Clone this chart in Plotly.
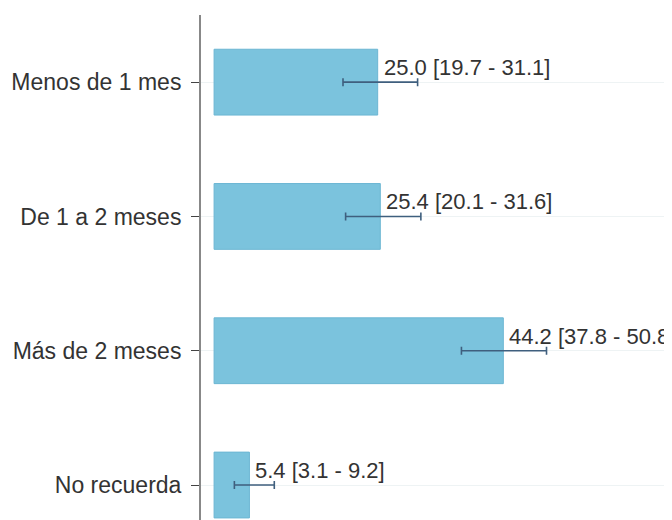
import plotly.graph_objects as go

categorias = ['Menos de 1 mes', 'De 1 a 2 meses', 'Más de 2 meses', 'No recuerda']
porcentaje = [25.0, 25.4, 44.2, 5.4]
ic_inf = [19.7, 20.1, 37.8, 3.1]
ic_sup = [31.1, 31.6, 50.8, 9.2]

etiquetas = [f'{v:.1f} [{lo:.1f} - {hi:.1f}]' for v, lo, hi in zip(porcentaje, ic_inf, ic_sup)]

fig = go.Figure(go.Bar(
    y=categorias,
    x=porcentaje,
    orientation='h',
    width=0.49,
    marker=dict(color='#7bc3dd', line=dict(color='#6cb6d3', width=1)),
    error_x=dict(
        type='data',
        symmetric=False,
        array=[hi - v for v, hi in zip(porcentaje, ic_sup)],
        arrayminus=[v - lo for v, lo in zip(porcentaje, ic_inf)],
        color='#3f5f7e',
        thickness=1.6,
        width=4,
    ),
    hoverinfo='skip',
))

for cat, v, txt in zip(categorias, porcentaje, etiquetas):
    fig.add_annotation(
        x=v, y=cat, text=txt, showarrow=False,
        xanchor='left', yanchor='bottom', xshift=4, yshift=0,
        font=dict(family='Liberation Sans, Arial', size=22, color='#333333'),
    )

# la página tiene ~8px de margen en el body
fig.update_layout(
    width=672, height=520,
    margin=dict(l=193, r=0, t=7, b=0),
    plot_bgcolor='white', paper_bgcolor='white',
    showlegend=False,
    font=dict(family='Liberation Sans, Arial', size=23, color='#333333'),
)
fig.update_xaxes(
    range=[-2, 71.2], showticklabels=False, showgrid=False, zeroline=False,
    showline=False, ticks='',
)
fig.update_yaxes(
    categoryorder='array', categoryarray=categorias,
    range=[3.32, -0.5],
    showline=True, linecolor='#888888', linewidth=2,
    ticks='outside', ticklen=8, tickcolor='#444444', tickwidth=1,
    ticklabelstandoff=5,
    showgrid=True, gridcolor='#eef3f4', gridwidth=1,
    zeroline=False,
)

fig.write_html('out.html')
